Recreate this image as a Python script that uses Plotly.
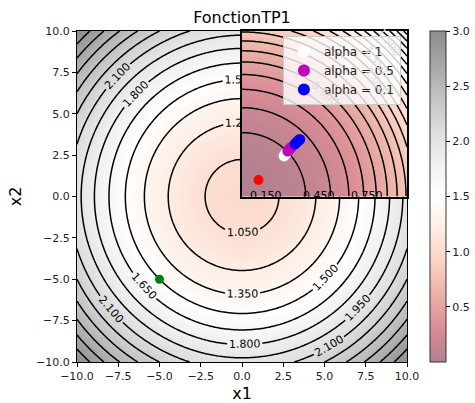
import numpy as np
import plotly.graph_objects as go

# ---------------- data ----------------
main_x1 = np.linspace(-10, 10, 201)
main_x2 = np.linspace(-10, 10, 201)
MAIN_OFFSET = 1.0
MAIN_COEF = 0.01
MX1, MX2 = np.meshgrid(main_x1, main_x2)
main_z = MAIN_OFFSET + MAIN_COEF * (MX1 ** 2 + MX2 ** 2)
main_levels = dict(start=1.05, end=2.85, size=0.15)

inset_x = np.linspace(0, 10, 201)
inset_y = np.linspace(0, 10, 201)
INSET_A = 0.0097
INSET_B = 2.47e-5
IX, IY = np.meshgrid(inset_x, inset_y)
IU = IX ** 2 + IY ** 2
inset_z = INSET_A * IU + INSET_B * IU ** 2
inset_levels = dict(start=0.15, end=3.0, size=0.15)

alpha1_x = [2.55, 2.62, 2.68]
alpha1_y = [2.45, 2.55, 2.62]
alpha05_x = [2.78, 2.86, 2.94, 3.0]
alpha05_y = [2.75, 2.84, 2.92, 2.98]
alpha01_x = [3.22, 3.32, 3.42, 3.5]
alpha01_y = [3.18, 3.28, 3.38, 3.45]
start_red = ([1.0], [1.0])
start_green = ([-5.0], [-5.0])

cbar_ticks = [0.5, 1.0, 1.5, 2.0, 2.5, 3.0]
axis_ticks = [-10, -7.5, -5, -2.5, 0, 2.5, 5, 7.5, 10]

inset_bottom_labels = ["0.150", "0.450", "0.750"]
inset_bottom_pos = [1.45, 4.67, 7.6]
inset_left_labels = ["0.300", "0.900"]
inset_left_pos = [4.1, 7.7]

# RdGy with alpha 0.5 over white
rdgy_half = [
    [0.0, 'rgb(179,128,143)'], [0.1, 'rgb(217,140,149)'], [0.2, 'rgb(234,176,166)'],
    [0.3, 'rgb(250,210,193)'], [0.4, 'rgb(254,237,227)'], [0.5, 'rgb(255,255,255)'],
    [0.6, 'rgb(240,240,240)'], [0.7, 'rgb(221,221,221)'], [0.8, 'rgb(195,195,195)'],
    [0.9, 'rgb(166,166,166)'], [1.0, 'rgb(141,141,141)'],
]

FONT = "DejaVu Sans"
fig = go.Figure()

# main fill + colorbar
fig.add_trace(go.Heatmap(
    x=main_x1, y=main_x2, z=main_z, colorscale=rdgy_half, zmin=0, zmax=3,
    zsmooth='best', hoverinfo='skip', showlegend=False,
    colorbar=dict(x=(430 - 77) / 330, xanchor='left', xpad=0, ypad=0,
                  y=0.5, yanchor='middle', len=1, lenmode='fraction', thickness=16,
                  tickvals=cbar_ticks, tickformat='.1f', ticks='outside', ticklen=4,
                  tickcolor='black', outlinewidth=1, outlinecolor='#333333',
                  tickfont=dict(size=11, color='#222222', family=FONT)),
))
# main contour lines
fig.add_trace(go.Contour(
    x=main_x1, y=main_x2, z=main_z, autocontour=False, contours=dict(
        coloring='none', showlabels=True, labelformat='.3f',
        labelfont=dict(size=11, color='black', family=FONT), **main_levels),
    line=dict(color='black', width=1.5), showscale=False, showlegend=False,
    hoverinfo='skip'))
fig.add_trace(go.Scatter(x=start_green[0], y=start_green[1], mode='markers',
                         marker=dict(color='green', size=9), showlegend=False))

# inset
fig.add_trace(go.Heatmap(
    x=inset_x, y=inset_y, z=inset_z, colorscale=rdgy_half, zmin=0, zmax=4.5,
    zsmooth='best', showscale=False, showlegend=False, xaxis='x2', yaxis='y2',
    hoverinfo='skip'))
fig.add_trace(go.Contour(
    x=inset_x, y=inset_y, z=inset_z, autocontour=False, contours=dict(
        coloring='none', showlabels=False, **inset_levels),
    line=dict(color='black', width=1.5), showscale=False, showlegend=False,
    xaxis='x2', yaxis='y2', hoverinfo='skip'))
fig.add_trace(go.Scatter(x=start_red[0], y=start_red[1], mode='markers',
                         marker=dict(color='red', size=10), showlegend=False,
                         xaxis='x2', yaxis='y2'))
fig.add_trace(go.Scatter(x=alpha1_x, y=alpha1_y, mode='markers', name='alpha = 1',
                         marker=dict(color='white', size=11), xaxis='x2', yaxis='y2'))
fig.add_trace(go.Scatter(x=alpha05_x, y=alpha05_y, mode='markers', name='alpha = 0.5',
                         marker=dict(color='#bf00bf', size=11), xaxis='x2', yaxis='y2'))
fig.add_trace(go.Scatter(x=alpha01_x, y=alpha01_y, mode='markers', name='alpha = 0.1',
                         marker=dict(color='blue', size=11), xaxis='x2', yaxis='y2'))

annotations = []
for t, p in zip(inset_bottom_labels, inset_bottom_pos):
    annotations.append(dict(x=p, y=0.05, xref='x2', yref='y2', text=t, showarrow=False,
                            font=dict(size=11, color='black', family=FONT)))
for t, p in zip(inset_left_labels, inset_left_pos):
    annotations.append(dict(x=-0.1, y=p, xref='x2', yref='y2', text=t, showarrow=False,
                            textangle=-90, font=dict(size=11, color='black', family=FONT)))
faint = [("0.600", 5.0, 6.2, 40), ("1.050", 8.2, 6.9, 55), ("1.350", 8.1, 8.2, 55),
         ("1.500", 8.9, 9.3, 55)]
for t, xx, yy, ang in faint:
    annotations.append(dict(x=xx, y=yy, xref='x2', yref='y2', text=t, showarrow=False,
                            textangle=ang, font=dict(size=11, color='#dcdcdc', family=FONT)))

axis_common = dict(showgrid=False, zeroline=False, showline=True, mirror=True,
                   linecolor='black', linewidth=1, ticks='outside', ticklen=4,
                   tickcolor='black', tickformat='.1f',
                   tickfont=dict(size=11, color='#222222', family=FONT))

fig.update_layout(
    width=475, height=403,
    margin=dict(l=77, r=68, t=31, b=41, autoexpand=False),
    paper_bgcolor='white', plot_bgcolor='white',
    font=dict(family=FONT, color='black'),
    title=dict(text='FonctionTP1', x=0.5, xref='paper', xanchor='center',
               y=1 - 17 / 403, yref='container', yanchor='middle',
               font=dict(size=16, color='black', family=FONT)),
    xaxis=dict(range=[-10, 10], tickvals=axis_ticks, domain=[0, 1],
               title=dict(text='x1', font=dict(size=16, family=FONT), standoff=5),
               **axis_common),
    yaxis=dict(range=[-10, 10], tickvals=axis_ticks, domain=[0, 1],
               title=dict(text='x2', font=dict(size=16, family=FONT), standoff=10),
               **axis_common),
    xaxis2=dict(range=[0, 10], domain=[0.5, 1], anchor='y2', showgrid=False,
                zeroline=False, showline=True, mirror=True, linecolor='black',
                linewidth=2, showticklabels=False, ticks=''),
    yaxis2=dict(range=[0, 10], domain=[0.5, 1], anchor='x2', showgrid=False,
                zeroline=False, showline=True, mirror=True, linecolor='black',
                linewidth=2, showticklabels=False, ticks=''),
    legend=dict(x=0.624, y=0.985, xanchor='left', yanchor='top',
                bgcolor='rgba(255,255,255,0.8)', bordercolor='#cccccc', borderwidth=1,
                font=dict(size=12, color='#222222', family=FONT), itemsizing='constant',
                tracegroupgap=0),
    annotations=annotations,
)

fig.write_html("out.html")
